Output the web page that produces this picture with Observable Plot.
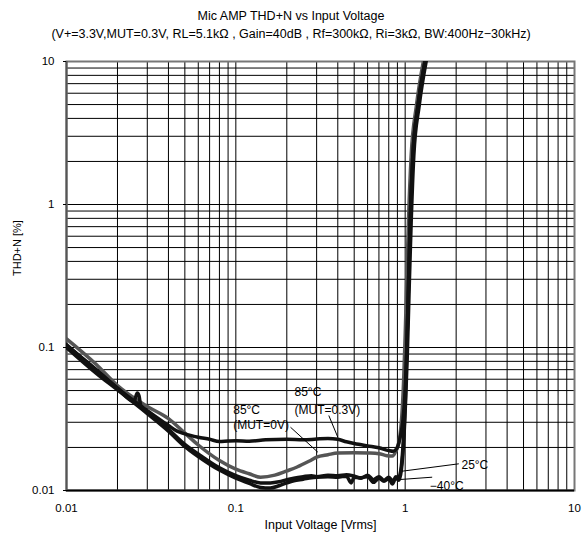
<!DOCTYPE html>
<html><head><meta charset="utf-8">
<script src="https://cdn.jsdelivr.net/npm/d3@7"></script>
<script src="https://cdn.jsdelivr.net/npm/@observablehq/plot@0.6"></script>
<style>
body{margin:0;background:#fff;font-family:"Liberation Sans",Arial,sans-serif;}
#head{height:43px;text-align:center;color:#000;font-size:12.5px;}
#t1{padding-top:7px;line-height:18px;}
#t2{line-height:18px;}
#chart svg{display:block;}
</style></head><body>
<div id="head"><div id="t1">Mic AMP THD+N vs Input Voltage</div><div id="t2">(V+=3.3V,MUT=0.3V, RL=5.1kΩ , Gain=40dB , Rf=300kΩ, Ri=3kΩ, BW:400Hz−30kHz)</div></div>
<div id="chart"></div>
<script>
// ---- data ----
const xTicks = [0.01, 0.1, 1, 10];
const xTickLabels = ["0.01", "0.1", "1", "10"];
const yTicks = [0.01, 0.1, 1, 10];
const yTickLabels = ["0.01", "0.1", "1", "10"];
const gridDecades = [0.01, 0.1, 1];
const gridMultipliers = [1, 2, 3, 4, 5, 6, 7, 8, 9];

// 85°C (MUT=0V) — black
const x85mut0 = [0.01, 0.015, 0.02, 0.03, 0.04, 0.045, 0.05, 0.06, 0.07, 0.08, 0.09, 0.1, 0.12, 0.15, 0.2, 0.25, 0.3, 0.35, 0.4, 0.45, 0.5, 0.6, 0.7, 0.8, 0.85, 0.89, 0.93, 0.97, 1.0, 1.02, 1.045, 1.07, 1.11, 1.19, 1.32];
const y85mut0 = [0.103, 0.07, 0.052, 0.0362, 0.0285, 0.026, 0.0249, 0.0236, 0.0228, 0.022, 0.0222, 0.0223, 0.0221, 0.0226, 0.0228, 0.0226, 0.0229, 0.0231, 0.0228, 0.0219, 0.0213, 0.0205, 0.0199, 0.019, 0.0188, 0.0196, 0.023, 0.031, 0.05, 0.09, 0.26, 0.75, 2.2, 4.9, 10.5];

// 25°C — black
const x25 = [0.01, 0.015, 0.02, 0.025, 0.0262, 0.0268, 0.0275, 0.03, 0.04, 0.05, 0.06, 0.08, 0.1, 0.12, 0.14, 0.16, 0.18, 0.2, 0.22, 0.25, 0.28, 0.3, 0.35, 0.4, 0.45, 0.5, 0.55, 0.6, 0.65, 0.7, 0.75, 0.8, 0.85, 0.88, 0.91, 0.94, 0.97, 1.0, 1.02, 1.045, 1.07, 1.11, 1.19, 1.32];
const y25 = [0.105, 0.069, 0.052, 0.042, 0.048, 0.046, 0.039, 0.0358, 0.0268, 0.021, 0.018, 0.0144, 0.0127, 0.0118, 0.0113, 0.0113, 0.0115, 0.0119, 0.0122, 0.0125, 0.0127, 0.0125, 0.0128, 0.0127, 0.0129, 0.0126, 0.0122, 0.0128, 0.0119, 0.0125, 0.0118, 0.0124, 0.0116, 0.0125, 0.0122, 0.0136, 0.02, 0.04, 0.088, 0.26, 0.75, 2.2, 4.9, 10.5];

// -40°C — black
const xm40 = [0.01, 0.015, 0.02, 0.03, 0.04, 0.05, 0.06, 0.08, 0.1, 0.12, 0.14, 0.16, 0.18, 0.2, 0.22, 0.25, 0.28, 0.3, 0.35, 0.4, 0.45, 0.48, 0.5, 0.55, 0.6, 0.65, 0.7, 0.75, 0.8, 0.84, 0.88, 0.92, 0.95, 0.98, 1.008, 1.03, 1.057, 1.085, 1.125, 1.21, 1.34];
const ym40 = [0.1, 0.066, 0.0505, 0.0345, 0.026, 0.0203, 0.0173, 0.0139, 0.0122, 0.0112, 0.0105, 0.0104, 0.0108, 0.0113, 0.0117, 0.012, 0.0123, 0.0124, 0.0125, 0.0124, 0.0126, 0.0113, 0.0124, 0.0123, 0.0125, 0.0114, 0.0122, 0.0116, 0.0121, 0.0111, 0.0122, 0.0118, 0.014, 0.022, 0.045, 0.09, 0.27, 0.75, 2.2, 4.9, 10.5];

// 85°C (MUT=0.3V) — gray
const x85mut03 = [0.01, 0.015, 0.02, 0.03, 0.04, 0.05, 0.06, 0.08, 0.1, 0.12, 0.14, 0.17, 0.2, 0.23, 0.27, 0.3, 0.35, 0.4, 0.5, 0.6, 0.7, 0.78, 0.84, 0.88, 0.92, 0.955, 0.98, 1.0, 1.022, 1.047, 1.085, 1.165, 1.29];
const y85mut03 = [0.115, 0.076, 0.0542, 0.0387, 0.0318, 0.0252, 0.0208, 0.0162, 0.0141, 0.0131, 0.0124, 0.0128, 0.0137, 0.0146, 0.016, 0.0171, 0.0178, 0.0183, 0.0184, 0.0183, 0.0181, 0.0175, 0.0174, 0.0188, 0.022, 0.033, 0.06, 0.12, 0.3, 0.8, 2.2, 4.9, 10.5];

// annotations
const labelText = ["85°C", "(MUT=0V)", "85°C", "(MUT=0.3V)", "25°C", "−40°C"];
const labelX = [0.0965, 0.0965, 0.222, 0.222, 2.15, 1.398];
const labelY = [0.0367, 0.0285, 0.0486, 0.0367, 0.01496, 0.01067];
const leaderX1 = [0.2103, 0.354, 2.074, 1.444];
const leaderY1 = [0.0277, 0.03345, 0.01537, 0.01239];
const leaderX2 = [0.305, 0.400, 0.9605, 0.9387];
const leaderY2 = [0.01854, 0.0236, 0.01365, 0.01194];

// ---- build ----
const gridVals = gridDecades.flatMap(d => gridMultipliers.map(m => +(d * m).toPrecision(3))).concat([10]);
const toPts = (xs, ys) => xs.map((x, i) => ({x, y: ys[i]}));
const s85a = toPts(x85mut0, y85mut0);
const s25 = toPts(x25, y25);
const sm40 = toPts(xm40, ym40);
const s85b = toPts(x85mut03, y85mut03);
const labels = labelText.map((t, i) => ({t, x: labelX[i], y: labelY[i]}));
const leaders = leaderX1.map((x, i) => ({x1: x, y1: leaderY1[i], x2: leaderX2[i], y2: leaderY2[i]}));

const fmtX = d => xTickLabels[xTicks.indexOf(d)];
const fmtY = d => yTickLabels[yTicks.indexOf(d)];

const chart = Plot.plot({
  width: 582,
  height: 495,
  marginLeft: 66,
  marginRight: 8,
  marginTop: 18,
  marginBottom: 48,
  style: {fontFamily: '"Liberation Sans", Arial, sans-serif', fontSize: "11px", color: "#000", background: "#fff"},
  x: {type: "log", domain: [0.01, 10]},
  y: {type: "log", domain: [0.01, 10]},
  marks: [
    Plot.ruleX(gridVals, {stroke: "#000", strokeWidth: 1}),
    Plot.ruleY(gridVals, {stroke: "#000", strokeWidth: 1}),
    Plot.frame({stroke: "#777", strokeWidth: 2}),
    Plot.ruleY([0.01], {stroke: "#000", strokeWidth: 2}),
    Plot.ruleX([0.01], {stroke: "#555", strokeWidth: 2}),
    Plot.axisX({ticks: xTicks, tickFormat: fmtX, tickSize: 0, tickPadding: 13, label: null, fontSize: 11.5}),
    Plot.axisY({ticks: yTicks, tickFormat: fmtY, tickSize: 3, tickPadding: 9, label: null, fontSize: 11.5}),
    Plot.text(["Input Voltage [Vrms]"], {frameAnchor: "bottom", dy: 38, text: d => d, fontSize: 12.5}),
    Plot.text(["THD+N [%]"], {frameAnchor: "left", dx: -49, rotate: -90, text: d => d, fontSize: 11}),
    Plot.line(s85b, {x: "x", y: "y", stroke: "#555", strokeWidth: 3.5, curve: "monotone-x", clip: true}),
    Plot.line(s85a, {x: "x", y: "y", stroke: "#111", strokeWidth: 3.5, curve: "monotone-x", clip: true}),
    Plot.line(sm40, {x: "x", y: "y", stroke: "#111", strokeWidth: 3.5, curve: "monotone-x", clip: true}),
    Plot.line(s25, {x: "x", y: "y", stroke: "#111", strokeWidth: 3.5, curve: "monotone-x", clip: true}),
    Plot.link(leaders, {x1: "x1", y1: "y1", x2: "x2", y2: "y2", stroke: "#000", strokeWidth: 1}),
    Plot.text(labels, {x: "x", y: "y", text: "t", textAnchor: "start", fontSize: 12, fill: "#000"})
  ]
});
document.getElementById("chart").appendChild(chart);
</script>
</body></html>
